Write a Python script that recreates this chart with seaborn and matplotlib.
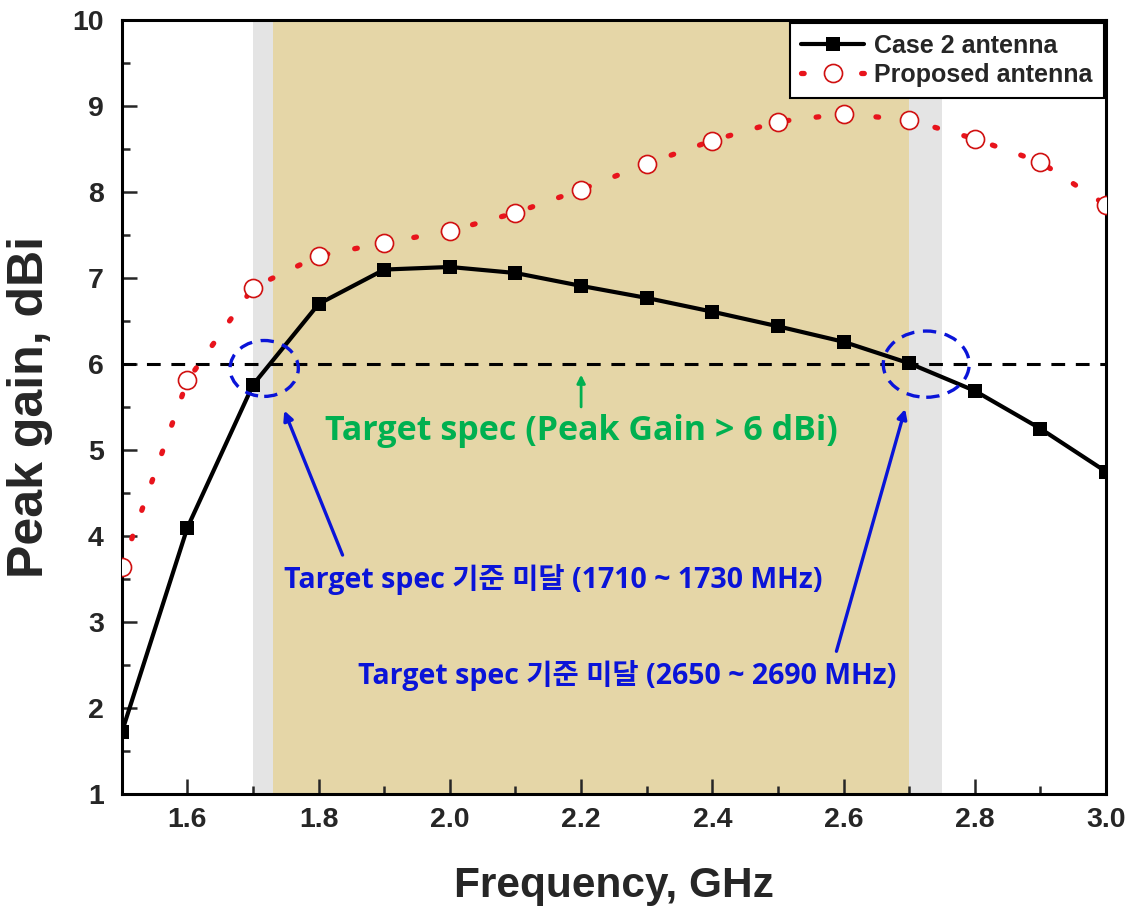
import matplotlib
matplotlib.use("Agg")
import matplotlib.pyplot as plt
from matplotlib.patches import Ellipse
from matplotlib.ticker import MultipleLocator, FormatStrFormatter
import seaborn as sns
import pandas as pd

# ---- data ----
freq = [1.5, 1.6, 1.7, 1.8, 1.9, 2.0, 2.1, 2.2, 2.3, 2.4, 2.5, 2.6, 2.7, 2.8, 2.9, 3.0]
case2 = [1.72, 4.10, 5.76, 6.70, 7.10, 7.13, 7.06, 6.91, 6.77, 6.61, 6.44, 6.26, 6.01, 5.69, 5.25, 4.75]
proposed = [3.64, 5.81, 6.89, 7.26, 7.41, 7.55, 7.76, 8.03, 8.33, 8.60, 8.82, 8.91, 8.84, 8.62, 8.35, 7.85]
series_names = ["Case 2 antenna", "Proposed antenna"]
target_gain = 6.0
gray_band = (1.70, 2.75)
tan_band = (1.73, 2.70)
green_label = "Target spec (Peak Gain > 6 dBi)"
blue_label1 = "Target spec 기준 미달 (1710 ~ 1730 MHz)"
blue_label2 = "Target spec 기준 미달 (2650 ~ 2690 MHz)"

df = pd.DataFrame({"freq": freq, "case2": case2, "proposed": proposed})

sns.set_style("ticks")
plt.rcParams['font.family'] = ['Liberation Sans', 'Noto Sans CJK KR', 'DejaVu Sans']
plt.rcParams['font.weight'] = 'bold'
ann_family = ['Open Sans', 'Noto Sans CJK KR']

fig = plt.figure(figsize=(11.28, 9.17), dpi=100)
ax = fig.add_axes([0.108, 0.134, 0.8725, 0.844])

ax.axvspan(*gray_band, color='#e4e4e4', zorder=0, lw=0)
ax.axvspan(*tan_band, color='#e5d6a7', zorder=0.5, lw=0)

ax.axhline(target_gain, color='black', lw=2.2, linestyle=(0, (4.5, 3.5)), zorder=2)

sns.lineplot(data=df, x="freq", y="proposed", ax=ax, color='#e8141c', lw=3.8,
             marker='o', markersize=13, markerfacecolor='white',
             markeredgecolor='#d01010', markeredgewidth=1.2,
             label=series_names[1], zorder=3)
sns.lineplot(data=df, x="freq", y="case2", ax=ax, color='black', lw=3.0,
             marker='s', markersize=10, markeredgewidth=0,
             label=series_names[0], zorder=4)
lines = ax.get_lines()
red_line = [l for l in lines if l.get_label() == series_names[1]][0]
red_line.set_linestyle((0, (0.5, 5.2)))
red_line.set_dash_capstyle('round')

# ellipses
blue = '#0a14d8'
for (cx, cy, w, h) in [(1.717, 5.95, 0.104, 0.65), (2.726, 6.0, 0.131, 0.77)]:
    e = Ellipse((cx, cy), w, h, fill=False, edgecolor=blue, lw=2.4,
                linestyle=(0, (4, 2.6)), zorder=5)
    ax.add_patch(e)

# green annotation
green = '#00b050'
ax.annotate("", xy=(2.2, 5.91), xytext=(2.2, 5.47),
            arrowprops=dict(arrowstyle='-|>', color=green, lw=2, mutation_scale=12), zorder=6)
ax.text(2.2, 5.22, green_label, color=green, fontsize=24.5, fontweight='bold',
        ha='center', va='center', family=ann_family, zorder=6)

# blue annotations
ax.annotate("", xy=(1.746, 5.49), xytext=(1.838, 3.75),
            arrowprops=dict(arrowstyle='-|>', color=blue, lw=2.4, mutation_scale=14), zorder=6)
ax.annotate("", xy=(2.695, 5.51), xytext=(2.588, 2.63),
            arrowprops=dict(arrowstyle='-|>', color=blue, lw=2.4, mutation_scale=14), zorder=6)
ax.text(2.158, 3.50, blue_label1, color=blue, fontsize=20.5, fontweight='bold',
        ha='center', va='center', family=ann_family, zorder=6)
ax.text(2.27, 2.38, blue_label2, color=blue, fontsize=20.5, fontweight='bold',
        ha='center', va='center', family=ann_family, zorder=6)

# axes
ax.set_xlim(1.5, 3.0)
ax.set_ylim(1, 10)
ax.xaxis.set_major_locator(MultipleLocator(0.2))
ax.xaxis.set_minor_locator(MultipleLocator(0.1))
ax.xaxis.set_major_formatter(FormatStrFormatter('%.1f'))
ax.yaxis.set_major_locator(MultipleLocator(1))
ax.yaxis.set_minor_locator(MultipleLocator(0.5))
ax.tick_params(which='major', direction='in', length=11, width=1.8, labelsize=20.5)
ax.tick_params(axis='x', which='major', pad=9)
ax.tick_params(axis='y', which='major', pad=13)
ax.tick_params(which='minor', direction='in', length=6, width=1.8)
for lab in ax.get_xticklabels() + ax.get_yticklabels():
    lab.set_fontweight('bold')
for sp in ax.spines.values():
    sp.set_linewidth(2.2)
    sp.set_color('black')

ax.set_xlabel("Frequency, GHz", fontsize=30.5, fontweight='bold', labelpad=24)
ax.set_ylabel("Peak gain, dBi", fontsize=36, fontweight='bold', labelpad=14)

# legend (Case 2 first)
handles, labels = ax.get_legend_handles_labels()
order = [labels.index(series_names[0]), labels.index(series_names[1])]
leg = ax.legend([handles[i] for i in order], [labels[i] for i in order],
                loc='upper right', fontsize=18, frameon=True, fancybox=False,
                borderaxespad=0.1, handlelength=2.5, handletextpad=0.4,
                borderpad=0.45, labelspacing=0.2)
leg.get_frame().set_edgecolor('black')
leg.get_frame().set_linewidth(1.5)
leg.get_frame().set_alpha(1)
for t in leg.get_texts():
    t.set_fontweight('bold')

fig.savefig("out.png", dpi=100)
